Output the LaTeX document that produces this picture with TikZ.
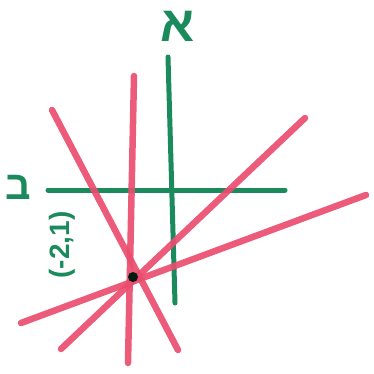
\documentclass[tikz,border=0pt]{standalone}
\usepackage{fontspec}
\setmainfont{Liberation Sans}
\newfontfamily\hebfont[Script=Hebrew]{Liberation Sans}
\TeXXeTstate=1
\definecolor{penred}{HTML}{EA4D6E}
\definecolor{pengreen}{HTML}{1B8A5C}
\begin{document}
\begin{tikzpicture}[x=1pt,y=-1pt,
  redline/.style={draw=penred,line width=6.5pt,line cap=round,opacity=0.92},
  greenline/.style={draw=pengreen,line width=5pt,line cap=round},
  lbl/.style={text=pengreen,inner sep=0pt}]
\useasboundingbox (0,0) rectangle (373,374);
% green axes
\coordinate (gvt) at (168,57);
\coordinate (gvb) at (175,303);
\coordinate (ghl) at (48,190);
\coordinate (ghr) at (285,190);
% red line ends
\coordinate (r1t) at (134,76);
\coordinate (r1b) at (128,363);
\coordinate (r2t) at (52,110);
\coordinate (r2b) at (178,350);
\coordinate (r3t) at (305,118);
\coordinate (r3b) at (61,349);
\coordinate (r4t) at (366,195);
\coordinate (r4b) at (21,323);
\draw[greenline] (gvt) -- (gvb);
\draw[greenline] (ghl) -- (ghr);
\draw[redline] (r1t) -- (r1b);
\draw[redline] (r2t) -- (r2b);
\draw[redline] (r3t) -- (r3b);
\draw[redline] (r4t) -- (r4b);
\node[circle,fill=black!80!pengreen,inner sep=0pt,minimum size=10pt] (pt) at (133,277) {};
\node[lbl,anchor=base,font=\hebfont\bfseries\fontsize{50}{50}\selectfont] (la) at (178,42) {\beginR א\endR};
\node[lbl,anchor=base,font=\hebfont\bfseries\fontsize{40}{40}\selectfont] (lb) at (18,199) {\beginR ב\endR};
\node[lbl,rotate=90,font=\bfseries\fontsize{28}{28}\selectfont] (lc) at (62,245) {(-2,1)};
\end{tikzpicture}
\end{document}
